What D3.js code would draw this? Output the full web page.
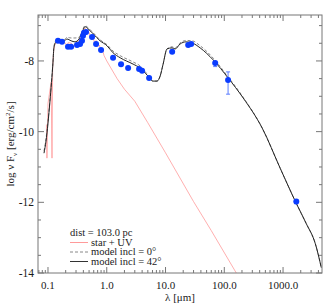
<!DOCTYPE html>
<html lang="en">
<head>
  <meta charset="UTF-8">
  <title>SED</title>
  <script src="https://d3js.org/d3.v7.min.js"></script>
  <style>
    body { margin: 0; background: #fff; }
    svg text { font-family: "Liberation Serif", "Times New Roman", Times, serif; fill: #1a1a1a; }
  </style>
</head>
<body>
  <div id="chart"></div>
  <script>
    // observed photometry (lambda in micron, log nuFnu)
    const obsLam = [0.148, 0.173, 0.219, 0.247, 0.312, 0.351, 0.379, 0.394, 0.41, 0.444, 0.562, 0.658, 0.80,
                    1.28, 1.75, 2.31, 3.55, 3.99, 5.26, 12.97, 24.3, 27.3, 70, 116, 1680];
    const obsFlux = [-7.43, -7.46, -7.60, -7.60, -7.55, -7.52, -7.43, -7.29, -7.20, -7.18, -7.32, -7.52, -7.69,
                     -7.91, -8.09, -8.20, -8.23, -8.28, -8.48, -7.74, -7.55, -7.52, -8.06, -8.54, -11.98];
    const obsErrLo = [0, 0, 0, 0, 0, 0, 0, 0, 0, 0, 0, 0, 0, 0, 0, 0, 0, 0, 0, 0, 0, 0, 0.1, 0.40, 0.06];
    const obsErrHi = [0, 0, 0, 0, 0, 0, 0, 0, 0, 0, 0, 0, 0, 0, 0, 0, 0, 0, 0, 0, 0, 0, 0.05, 0.23, 0.06];

    // model, inclination 42 deg
    const mod42Lam = [0.0855, 0.0925, 0.108, 0.122, 0.126, 0.137, 0.160, 0.187, 0.211, 0.247, 0.288, 0.337, 0.379,
                      0.427, 0.480, 0.585, 0.769, 1.01, 1.28, 1.69, 2.81, 3.69, 4.86, 6.15, 7.19, 8.09, 9.10,
                      10.6, 12.9, 14.6, 17.7, 22.4, 28.4, 38.8, 64.7, 116, 210, 442, 896, 1680, 2480, 3540, 4480];
    const mod42Flux = [-10.61, -10.27, -9.14, -8.00, -7.63, -7.46, -7.43, -7.43, -7.38, -7.43, -7.46, -7.38, -7.20,
                       -7.03, -7.09, -7.23, -7.43, -7.57, -7.77, -7.91, -8.09, -8.20, -8.40, -8.57, -8.57, -8.43, -8.09,
                       -7.66, -7.63, -7.66, -7.52, -7.46, -7.49, -7.63, -7.97, -8.48, -9.05, -9.90, -11.04, -12.03, -12.60, -13.17, -13.85];

    // model, inclination 0 deg
    const mod0Lam = [0.0855, 0.0925, 0.108, 0.122, 0.126, 0.137, 0.160, 0.187, 0.211, 0.247, 0.288, 0.337, 0.379,
                     0.427, 0.480, 0.585, 0.769, 1.01, 1.28, 1.69, 2.81, 3.69, 4.86, 6.15, 7.19, 8.09, 9.10,
                     10.6, 12.9, 14.6, 17.7, 22.4, 28.4, 38.8, 64.7, 116, 210, 442, 896, 1680, 2480, 3540, 4480];
    const mod0Flux = [-10.55, -10.2, -9.1, -7.98, -7.60, -7.42, -7.40, -7.40, -7.33, -7.35, -7.35, -7.33, -7.17,
                      -7.00, -7.06, -7.20, -7.40, -7.54, -7.72, -7.85, -8.03, -8.14, -8.37, -8.57, -8.57, -8.43, -8.09,
                      -7.66, -7.60, -7.63, -7.49, -7.42, -7.43, -7.57, -7.92, -8.45, -9.03, -9.90, -11.04, -12.03, -12.60, -13.17, -13.85];

    // star + UV spectrum
    const starLam = [0.094, 0.096, 0.100, 0.113, 0.117, 0.120, 0.125, 0.13, 0.14, 0.16,
                     0.18, 0.20, 0.21, 0.22, 0.25, 0.27, 0.29, 0.32, 0.35, 0.37, 0.39, 0.41, 0.43, 0.45, 0.47,
                     0.50, 0.55, 0.58, 0.62, 0.66, 0.70, 0.75, 0.80, 0.85, 0.90, 1.0, 1.5, 2.0, 3.0, 5.0, 10,
                     30, 60, 160];
    const starFlux = [-9.8, -10.75, -9.2, -8.6, -10.75, -8.2, -7.7, -7.55, -7.47, -7.45,
                      -7.47, -7.50, -7.62, -7.48, -7.50, -7.65, -7.50, -7.45, -7.35, -7.50, -7.20, -7.10, -7.07, -7.25, -7.12,
                      -7.20, -7.40, -7.30, -7.50, -7.42, -7.60, -7.55, -7.75, -7.70, -7.85, -8.0, -8.5, -8.8, -9.14, -9.75, -10.6,
                      -11.98, -12.8, -14.0];

    const xTickLabels = ["0.1", "1.0", "10.0", "100.0", "1000.0"];
    const yTickLabels = [-14, -12, -10, -8];
    const legendLabels = ["star + UV", "model incl = 0\u00b0", "model incl = 42\u00b0"];

    const W = 332, H = 306;
    const m = { left: 38, right: 10, top: 15, bottom: 33 };
    const iw = W - m.left - m.right, ih = H - m.top - m.bottom;
    const serif = "'Liberation Serif', 'Times New Roman', Times, serif";

    const svg = d3.select("#chart").append("svg")
      .attr("width", W).attr("height", H)
      .attr("font-family", serif)
      .style("background", "#fff");

    const x = d3.scaleLog().domain([0.0676, 4600]).range([m.left, m.left + iw]);
    const y = d3.scaleLinear().domain([-14, -6.7]).range([m.top + ih, m.top]);

    svg.append("clipPath").attr("id", "clip")
      .append("rect").attr("x", m.left).attr("y", m.top).attr("width", iw).attr("height", ih);
    const plot = svg.append("g").attr("clip-path", "url(#clip)");

    const line = d3.line().x(d => x(d[0])).y(d => y(d[1]));

    // star + UV
    plot.append("path")
      .datum(d3.zip(starLam, starFlux))
      .attr("d", line)
      .attr("fill", "none")
      .attr("stroke", "#ff9a9a")
      .attr("stroke-width", 0.8);

    // model incl 0 (dashed)
    plot.append("path")
      .datum(d3.zip(mod0Lam, mod0Flux))
      .attr("d", line.curve(d3.curveMonotoneX))
      .attr("fill", "none")
      .attr("stroke", "#888")
      .attr("stroke-width", 1)
      .attr("stroke-dasharray", "3,2");

    // model incl 42 (solid)
    plot.append("path")
      .datum(d3.zip(mod42Lam, mod42Flux))
      .attr("d", line.curve(d3.curveMonotoneX))
      .attr("fill", "none")
      .attr("stroke", "#222")
      .attr("stroke-width", 1);

    // observations
    const obs = d3.range(obsLam.length).map(i => ({
      l: obsLam[i], f: obsFlux[i], lo: obsErrLo[i], hi: obsErrHi[i]
    }));

    plot.selectAll(".err")
      .data(obs.filter(d => d.lo > 0 || d.hi > 0))
      .enter().append("g")
      .each(function(d) {
        const g = d3.select(this);
        const cx = x(d.l);
        g.append("line")
          .attr("x1", cx).attr("x2", cx)
          .attr("y1", y(d.f - d.lo)).attr("y2", y(d.f + d.hi))
          .attr("stroke", "#5a7cff").attr("stroke-width", 1);
        [d.f - d.lo, d.f + d.hi].forEach(v => {
          g.append("line")
            .attr("x1", cx - 2).attr("x2", cx + 2)
            .attr("y1", y(v)).attr("y2", y(v))
            .attr("stroke", "#5a7cff").attr("stroke-width", 1);
        });
      });

    plot.selectAll(".pt")
      .data(obs)
      .enter().append("circle")
      .attr("cx", d => x(d.l))
      .attr("cy", d => y(d.f))
      .attr("r", 3)
      .attr("fill", "#0a3cff");

    // frame
    svg.append("rect")
      .attr("x", m.left).attr("y", m.top).attr("width", iw).attr("height", ih)
      .attr("fill", "none").attr("stroke", "#777").attr("stroke-width", 1);

    // x ticks (inward, top and bottom)
    const xMajor = [0.1, 1, 10, 100, 1000];
    const xMinor = [];
    [0.01, 0.1, 1, 10, 100, 1000].forEach(dec => {
      for (let k = 2; k <= 9; k++) {
        const v = dec * k;
        if (v > x.domain()[0] && v < x.domain()[1]) xMinor.push(v);
      }
    });
    const yb = m.top + ih, yt = m.top;
    const tickG = svg.append("g").attr("stroke", "#777").attr("stroke-width", 1);
    xMajor.forEach(v => {
      tickG.append("line").attr("x1", x(v)).attr("x2", x(v)).attr("y1", yb).attr("y2", yb - 6);
      tickG.append("line").attr("x1", x(v)).attr("x2", x(v)).attr("y1", yt).attr("y2", yt + 6);
    });
    xMinor.forEach(v => {
      tickG.append("line").attr("x1", x(v)).attr("x2", x(v)).attr("y1", yb).attr("y2", yb - 3);
      tickG.append("line").attr("x1", x(v)).attr("x2", x(v)).attr("y1", yt).attr("y2", yt + 3);
    });

    // y ticks
    const xl = m.left, xr = m.left + iw;
    d3.range(-14, -6.7, 0.5).forEach(v => {
      const major = Math.abs(v % 2) < 1e-9;
      const len = major ? 6 : 3;
      tickG.append("line").attr("x1", xl).attr("x2", xl + len).attr("y1", y(v)).attr("y2", y(v));
      tickG.append("line").attr("x1", xr).attr("x2", xr - len).attr("y1", y(v)).attr("y2", y(v));
    });

    // tick labels
    svg.selectAll(".xl")
      .data(xMajor)
      .enter().append("text")
      .attr("x", d => x(d))
      .attr("y", yb + 16)
      .attr("text-anchor", "middle")
      .attr("font-family", serif)
      .attr("font-size", 11)
      .text((d, i) => xTickLabels[i]);

    svg.selectAll(".yl")
      .data(yTickLabels)
      .enter().append("text")
      .attr("x", xl - 4)
      .attr("y", d => y(d) + 4)
      .attr("text-anchor", "end")
      .attr("font-family", serif)
      .attr("font-size", 11.5)
      .text(d => d);

    // axis titles
    svg.append("text")
      .attr("x", m.left + iw / 2)
      .attr("y", H - 5)
      .attr("text-anchor", "middle")
      .attr("font-family", serif)
      .attr("font-size", 11)
      .text("\u03bb [\u03bcm]");

    const yt2 = svg.append("text")
      .attr("transform", `translate(14,${m.top + ih / 2}) rotate(-90)`)
      .attr("text-anchor", "middle")
      .attr("font-family", serif)
      .attr("font-size", 11);
    yt2.append("tspan").text("log \u03bd F");
    yt2.append("tspan").attr("font-size", 7).attr("dy", 3).text("\u03bd");
    yt2.append("tspan").attr("dy", -3).text(" [erg/cm");
    yt2.append("tspan").attr("font-size", 7).attr("dy", -4).text("2");
    yt2.append("tspan").attr("dy", 4).text("/s]");

    // legend
    const lg = svg.append("g").attr("transform", "translate(70,236)")
      .attr("font-family", serif);
    lg.append("text").attr("x", 0).attr("y", 0).attr("font-size", 10.5).text("dist = 103.0 pc");
    const styles = [
      { stroke: "#ff9a9a", dash: null },
      { stroke: "#888", dash: "3,2" },
      { stroke: "#333", dash: null }
    ];
    legendLabels.forEach((t, i) => {
      const yy = 9.5 * (i + 1);
      lg.append("line")
        .attr("x1", 0).attr("x2", 18).attr("y1", yy - 3).attr("y2", yy - 3)
        .attr("stroke", styles[i].stroke).attr("stroke-width", 1)
        .attr("stroke-dasharray", styles[i].dash);
      lg.append("text").attr("x", 21).attr("y", yy).attr("font-size", 10.5).text(t);
    });
  </script>
</body>
</html>
